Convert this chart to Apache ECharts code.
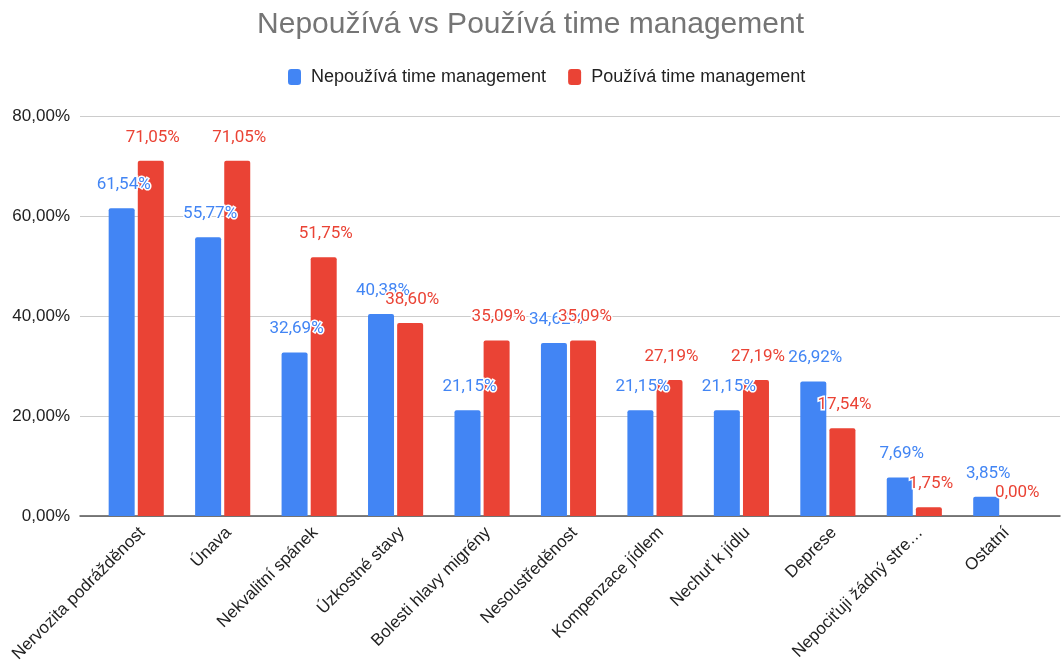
<!DOCTYPE html>
<html>
<head>
<meta charset="utf-8">
<script src="https://cdn.jsdelivr.net/npm/echarts@6/dist/echarts.min.js"></script>
<style>
  html, body { margin: 0; padding: 0; background: #fff; }
  #chart { width: 1061px; height: 662px; }
</style>
</head>
<body>
<div id="chart"></div>
<script>
// kategorie na ose x
const categories = [
  'Nervozita podrážděnost',
  'Únava',
  'Nekvalitní spánek',
  'Úzkostné stavy',
  'Bolesti hlavy migrény',
  'Nesoustředěnost',
  'Kompenzace jídlem',
  'Nechuť k jídlu',
  'Deprese',
  'Nepociťuji žádný stre…',
  'Ostatní'
]
const seriesNames = ['Nepoužívá time management', 'Používá time management']
const nepouziva = [61.54, 55.77, 32.69, 40.38, 21.15, 34.62, 21.15, 21.15, 26.92, 7.69, 3.85]
const pouziva = [71.05, 71.05, 51.75, 38.60, 35.09, 35.09, 27.19, 27.19, 17.54, 1.75, 0.00]
const yTicks = [0, 20, 40, 60, 80]

const colors = ['#4285f4', '#ea4335']
const fontFamily = '"Liberation Sans", Arial, sans-serif'

function pct(v) {
  return Number(v).toFixed(2).replace('.', ',') + '%'
}

function barSeries(name, data, color) {
  return {
    name: name,
    type: 'bar',
    xAxisIndex: 0,
    yAxisIndex: 0,
    barWidth: 26,
    barGap: '12%',
    itemStyle: { color: color, borderRadius: [2, 2, 0, 0] },
    label: {
      show: true,
      position: 'top',
      distance: 15,
      offset: [2, 0],
      color: color,
      fontFamily: 'Roboto, sans-serif',
      fontSize: 17,
      textBorderColor: '#fff',
      textBorderWidth: 3,
      formatter: p => pct(p.value)
    },
    data: data
  }
}

const myChart = echarts.init(document.getElementById('chart'))
const option = {
  animation: false,
  color: colors,
  title: {
    text: 'Nepoužívá vs Používá time management',
    left: 'center',
    top: 5,
    textStyle: {
      color: '#757575',
      fontFamily: fontFamily,
      fontWeight: 'normal',
      fontSize: 30
    }
  },
  legend: {
    top: 63,
    left: 283,
    icon: 'roundRect',
    itemWidth: 13,
    itemHeight: 16,
    itemGap: 22,
    textStyle: { color: '#222', fontFamily: fontFamily, fontSize: 18, padding: [0, 0, 0, 5] },
    data: seriesNames
  },
  grid: [
    // sloupce
    { left: 93, right: 17, top: 116, bottom: 146, outerBoundsMode: 'none', containLabel: false },
    // mřížka a popisky osy y (širší než sloupce)
    { left: 80, right: 1, top: 116, bottom: 146, outerBoundsMode: 'none', containLabel: false }
  ],
  xAxis: [
    {
      type: 'category',
      gridIndex: 0,
      data: categories,
      axisLine: { show: false },
      axisTick: { show: false },
      axisLabel: {
        rotate: 45,
        margin: 8,
        interval: 0,
        verticalAlign: 'top',
        color: '#222',
        fontFamily: fontFamily,
        fontSize: 17
      }
    },
    {
      type: 'value',
      gridIndex: 1,
      min: 0,
      max: 1,
      axisLine: { show: true, onZero: false, lineStyle: { color: '#555', width: 1.5 } },
      axisTick: { show: false },
      axisLabel: { show: false },
      splitLine: { show: false }
    }
  ],
  yAxis: [
    {
      type: 'value',
      gridIndex: 0,
      min: yTicks[0],
      max: yTicks[yTicks.length - 1],
      interval: 20,
      axisLine: { show: false },
      axisTick: { show: false },
      axisLabel: { show: false },
      splitLine: { show: false }
    },
    {
      type: 'value',
      gridIndex: 1,
      min: yTicks[0],
      max: yTicks[yTicks.length - 1],
      interval: 20,
      axisLine: { show: false },
      axisTick: { show: false },
      axisLabel: {
        margin: 10,
        color: '#222',
        fontFamily: fontFamily,
        fontSize: 17,
        formatter: v => pct(v)
      },
      splitLine: { show: true, lineStyle: { color: '#cccccc', width: 1 } }
    }
  ],
  series: [
    barSeries(seriesNames[0], nepouziva, colors[0]),
    barSeries(seriesNames[1], pouziva, colors[1])
  ]
}
myChart.setOption(option)
</script>
</body>
</html>
